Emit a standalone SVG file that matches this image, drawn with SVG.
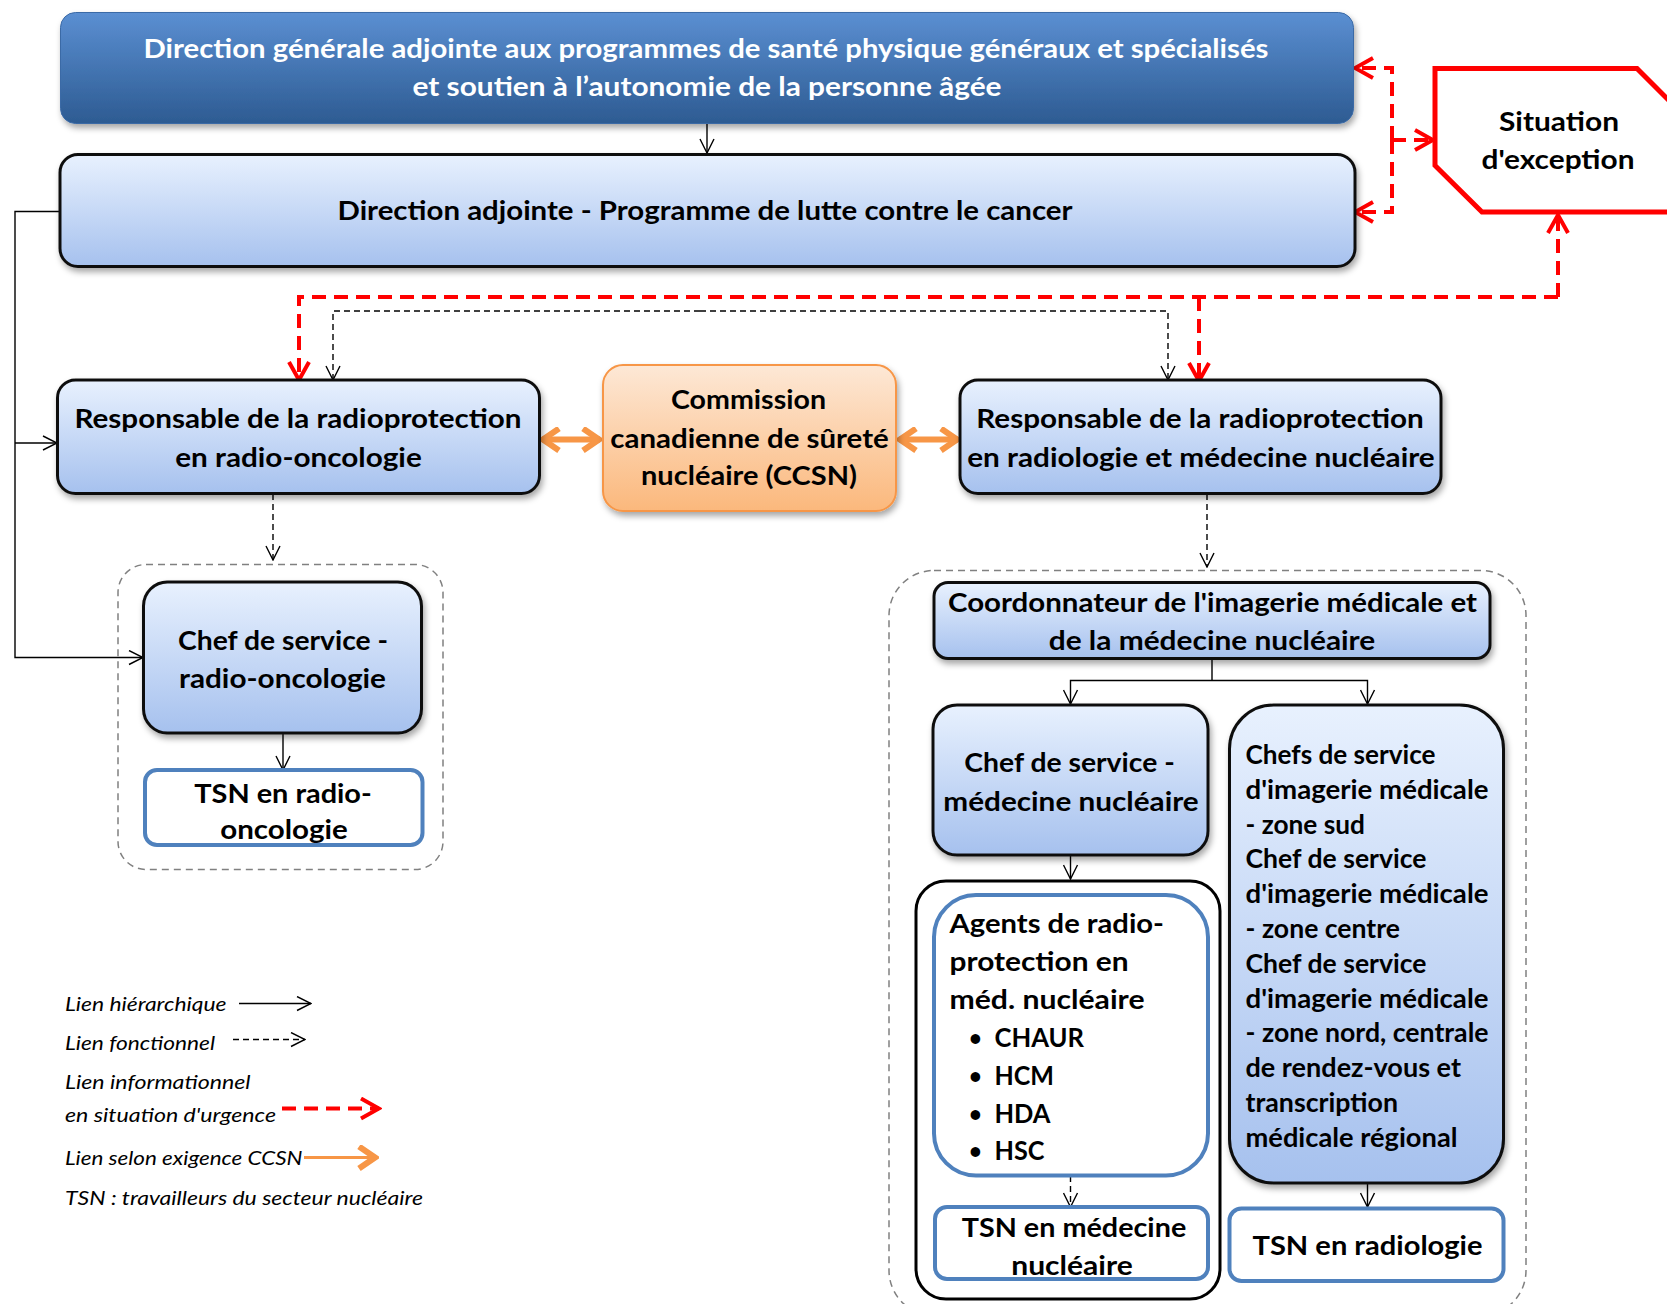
<svg xmlns="http://www.w3.org/2000/svg" width="1667" height="1304" viewBox="0 0 1667 1304">
<defs>
<style>
.t{font-family:Lato,"Open Sans","Liberation Sans",sans-serif;font-weight:700;font-size:27px;fill:#000}
.c{text-anchor:middle}
.tw{fill:#fff;font-size:26px}
.bul{font-size:22px}
.leg{font-family:Lato,"Open Sans","Liberation Sans",sans-serif;font-style:italic;font-size:20px;fill:#000}
.bx{stroke:#111;stroke-width:3}
.blu{fill:#fff;stroke:#4f81bd;stroke-width:4}
.h{stroke:#000;stroke-width:1.4;fill:none}
.f{stroke:#000;stroke-width:1.4;fill:none;stroke-dasharray:6 4}
.r{stroke:#ff0000;stroke-width:4;fill:none;stroke-dasharray:14 8}
.o{stroke:#f79646;stroke-width:6;fill:none}
.grp{fill:none;stroke:#808080;stroke-width:1.5;stroke-dasharray:7 5}
</style>
<linearGradient id="gDark" x1="0" y1="0" x2="0" y2="1">
<stop offset="0" stop-color="#5b8fd2"/><stop offset="1" stop-color="#2d5b92"/>
</linearGradient>
<linearGradient id="gLight" x1="0" y1="0" x2="0" y2="1">
<stop offset="0" stop-color="#e8f1fe"/><stop offset="1" stop-color="#a6c1ee"/>
</linearGradient>
<linearGradient id="gOr" x1="0" y1="0" x2="0" y2="1">
<stop offset="0" stop-color="#fde8d6"/><stop offset="1" stop-color="#fbb87c"/>
</linearGradient>
<filter id="sh" x="-10%" y="-10%" width="125%" height="135%">
<feDropShadow dx="2" dy="4" stdDeviation="3" flood-color="#000" flood-opacity="0.35"/>
</filter>
<marker id="aH" viewBox="0 0 16 16" refX="15" refY="8" markerWidth="16" markerHeight="16" markerUnits="userSpaceOnUse" orient="auto">
<path d="M1,1 L15,8 L1,15" fill="none" stroke="#000" stroke-width="1.4"/>
</marker>
<marker id="aR" viewBox="0 0 24 24" refX="21" refY="12" markerWidth="24" markerHeight="24" markerUnits="userSpaceOnUse" orient="auto">
<path d="M3,2 L21,12 L3,22" fill="none" stroke="#ff0000" stroke-width="4"/>
</marker>
<marker id="aO" viewBox="0 0 24 26" refX="21" refY="13" markerWidth="24" markerHeight="26" markerUnits="userSpaceOnUse" orient="auto-start-reverse">
<path d="M4,2 L20,13 L4,24" fill="none" stroke="#f79646" stroke-width="6"/>
</marker>
</defs>

<rect width="1667" height="1304" fill="#fff"/>

<!-- group containers -->
<g id="container-left"><rect class="grp" x="118" y="564.5" width="325" height="305" rx="28"/></g>
<g id="container-right"><rect class="grp" x="889" y="570.5" width="637" height="745" rx="45"/></g>

<!-- connectors -->
<g id="connectors">
<path class="h" d="M707,124 V153" marker-end="url(#aH)"/>
<path class="h" d="M60,211.5 H15 V657.5 H143" marker-end="url(#aH)"/>
<path class="h" d="M15,443 H57" marker-end="url(#aH)"/>
<path class="h" d="M283,733 V770" marker-end="url(#aH)"/>
<path class="h" d="M1212,659 V680.5"/>
<path class="h" d="M1212,680.5 H1070.5 V704" marker-end="url(#aH)"/>
<path class="h" d="M1212,680.5 H1367.5 V704" marker-end="url(#aH)"/>
<path class="h" d="M1070.5,855 V879" marker-end="url(#aH)"/>
<path class="h" d="M1367.5,1183 V1207" marker-end="url(#aH)"/>

<path class="f" d="M700,311 H333 V380" marker-end="url(#aH)"/>
<path class="f" d="M700,311 H1168 V380" marker-end="url(#aH)"/>
<path class="f" d="M273,494 V560" marker-end="url(#aH)"/>
<path class="f" d="M1207,494 V567" marker-end="url(#aH)"/>
<path class="f" d="M1070.5,1176 V1207" marker-end="url(#aH)"/>

<path class="r" d="M1392,140 V68 H1355" marker-end="url(#aR)"/>
<path class="r" d="M1392,140 V212 H1355" marker-end="url(#aR)"/>
<path class="r" d="M1392,140 H1433" marker-end="url(#aR)"/>
<path class="r" d="M1558,297 V215" marker-end="url(#aR)"/>
<path class="r" d="M1558,297 H299 V380" marker-end="url(#aR)"/>
<path class="r" d="M1199,297 V381" marker-end="url(#aR)"/>

<path class="o" d="M542,439.5 H600" marker-start="url(#aO)" marker-end="url(#aO)"/>
<path class="o" d="M899,439.5 H958" marker-start="url(#aO)" marker-end="url(#aO)"/>
</g>

<!-- nodes -->
<g id="n-dga">
<rect x="60.5" y="12.5" width="1293" height="111" rx="15" fill="url(#gDark)" stroke="#3b6aa6" stroke-width="1" filter="url(#sh)"/>
<text class="t tw c" x="706" y="58" textLength="1125" lengthAdjust="spacingAndGlyphs">Direction générale adjointe aux programmes de santé physique généraux et spécialisés</text>
<text class="t tw c" x="707" y="96" textLength="589" lengthAdjust="spacingAndGlyphs">et soutien à l’autonomie de la personne âgée</text>
</g>

<g id="n-da">
<rect class="bx" x="60" y="154.5" width="1295" height="112" rx="18" fill="url(#gLight)" filter="url(#sh)"/>
<text class="t c" x="705" y="220" textLength="735" lengthAdjust="spacingAndGlyphs">Direction adjointe - Programme de lutte contre le cancer</text>
</g>

<g id="n-situation">
<polygon points="1435,68.5 1637,68.5 1681,112.5 1681,212 1482,212 1435,165.5" fill="#fff" stroke="#ff0000" stroke-width="5"/>
<text class="t c" x="1559" y="131" textLength="120" lengthAdjust="spacingAndGlyphs">Situation</text>
<text class="t c" x="1558" y="169" textLength="153" lengthAdjust="spacingAndGlyphs">d'exception</text>
</g>

<g id="n-resp-ro">
<rect class="bx" x="57.5" y="380" width="482" height="113.5" rx="18" fill="url(#gLight)" filter="url(#sh)"/>
<text class="t c" x="298" y="428" textLength="447" lengthAdjust="spacingAndGlyphs">Responsable de la radioprotection</text>
<text class="t c" x="298.5" y="466.5" textLength="246.5" lengthAdjust="spacingAndGlyphs">en radio-oncologie</text>
</g>

<g id="n-ccsn">
<rect x="603" y="365" width="293" height="146" rx="20" fill="url(#gOr)" stroke="#f79646" stroke-width="2" filter="url(#sh)"/>
<text class="t c" x="748.5" y="409" textLength="155" lengthAdjust="spacingAndGlyphs">Commission</text>
<text class="t c" x="749.5" y="447.5" textLength="278.5" lengthAdjust="spacingAndGlyphs">canadienne de sûreté</text>
<text class="t c" x="749" y="485" textLength="216" lengthAdjust="spacingAndGlyphs">nucléaire (CCSN)</text>
</g>

<g id="n-resp-rmn">
<rect class="bx" x="960" y="380" width="481" height="113.5" rx="18" fill="url(#gLight)" filter="url(#sh)"/>
<text class="t c" x="1200" y="428" textLength="447.5" lengthAdjust="spacingAndGlyphs">Responsable de la radioprotection</text>
<text class="t c" x="1201" y="466.5" textLength="467.5" lengthAdjust="spacingAndGlyphs">en radiologie et médecine nucléaire</text>
</g>

<g id="n-chef-ro">
<rect class="bx" x="143.5" y="582" width="278" height="151" rx="24" fill="url(#gLight)" filter="url(#sh)"/>
<text class="t c" x="283" y="650" textLength="210" lengthAdjust="spacingAndGlyphs">Chef de service -</text>
<text class="t c" x="282.5" y="688" textLength="207" lengthAdjust="spacingAndGlyphs">radio-oncologie</text>
</g>

<g id="n-tsn-ro">
<rect class="blu" x="145" y="770" width="277.5" height="75" rx="12"/>
<text class="t c" x="283" y="803" textLength="177.5" lengthAdjust="spacingAndGlyphs">TSN en radio-</text>
<text class="t c" x="284" y="839" textLength="127.5" lengthAdjust="spacingAndGlyphs">oncologie</text>
</g>

<g id="n-coord">
<rect class="bx" x="934" y="582.5" width="556" height="76" rx="14" fill="url(#gLight)" filter="url(#sh)"/>
<text class="t c" x="1212.5" y="611.5" textLength="529" lengthAdjust="spacingAndGlyphs">Coordonnateur de l'imagerie médicale et</text>
<text class="t c" x="1212" y="650" textLength="326.5" lengthAdjust="spacingAndGlyphs">de la médecine nucléaire</text>
</g>

<g id="n-chef-mn">
<rect class="bx" x="933" y="705" width="275" height="150" rx="24" fill="url(#gLight)" filter="url(#sh)"/>
<text class="t c" x="1069.5" y="772" textLength="210.5" lengthAdjust="spacingAndGlyphs">Chef de service -</text>
<text class="t c" x="1071" y="810.5" textLength="255.5" lengthAdjust="spacingAndGlyphs">médecine nucléaire</text>
</g>

<g id="n-mn-frame">
<rect x="916" y="881" width="304" height="418" rx="30" fill="none" stroke="#000" stroke-width="3"/>
</g>

<g id="n-agents">
<rect class="blu" x="934" y="895" width="274" height="280.5" rx="42"/>
<text class="t" x="949.5" y="933" textLength="214.5" lengthAdjust="spacingAndGlyphs">Agents de radio-</text>
<text class="t" x="949.5" y="971" textLength="179" lengthAdjust="spacingAndGlyphs">protection en</text>
<text class="t" x="949.5" y="1009" textLength="195" lengthAdjust="spacingAndGlyphs">méd. nucléaire</text>
<text class="t bul" x="969" y="1046">•</text><text class="t" x="994.5" y="1047" textLength="89.5" lengthAdjust="spacingAndGlyphs">CHAUR</text>
<text class="t bul" x="969" y="1084">•</text><text class="t" x="994.5" y="1085" textLength="59.5" lengthAdjust="spacingAndGlyphs">HCM</text>
<text class="t bul" x="969" y="1122">•</text><text class="t" x="994.5" y="1123" textLength="56" lengthAdjust="spacingAndGlyphs">HDA</text>
<text class="t bul" x="969" y="1159">•</text><text class="t" x="994.5" y="1160" textLength="50" lengthAdjust="spacingAndGlyphs">HSC</text>
</g>

<g id="n-tsn-mn">
<rect class="blu" x="935" y="1207" width="273" height="72" rx="12"/>
<text class="t c" x="1074" y="1237" textLength="224.5" lengthAdjust="spacingAndGlyphs">TSN en médecine</text>
<text class="t c" x="1072" y="1275" textLength="121.5" lengthAdjust="spacingAndGlyphs">nucléaire</text>
</g>

<g id="n-chefs-im">
<rect class="bx" x="1229.5" y="705" width="274" height="478" rx="44" fill="url(#gLight)" filter="url(#sh)"/>
<text class="t" x="1245.5" y="764" textLength="190" lengthAdjust="spacingAndGlyphs">Chefs de service</text>
<text class="t" x="1245.5" y="798.8" textLength="243" lengthAdjust="spacingAndGlyphs">d'imagerie médicale</text>
<text class="t" x="1245.5" y="833.6" textLength="119.5" lengthAdjust="spacingAndGlyphs">- zone sud</text>
<text class="t" x="1245.5" y="868.4" textLength="181" lengthAdjust="spacingAndGlyphs">Chef de service</text>
<text class="t" x="1245.5" y="903.2" textLength="243" lengthAdjust="spacingAndGlyphs">d'imagerie médicale</text>
<text class="t" x="1245.5" y="938" textLength="154.5" lengthAdjust="spacingAndGlyphs">- zone centre</text>
<text class="t" x="1245.5" y="972.8" textLength="181" lengthAdjust="spacingAndGlyphs">Chef de service</text>
<text class="t" x="1245.5" y="1007.6" textLength="243" lengthAdjust="spacingAndGlyphs">d'imagerie médicale</text>
<text class="t" x="1245.5" y="1042.4" textLength="243" lengthAdjust="spacingAndGlyphs">- zone nord, centrale</text>
<text class="t" x="1245.5" y="1077.2" textLength="215.5" lengthAdjust="spacingAndGlyphs">de rendez-vous et</text>
<text class="t" x="1245.5" y="1112" textLength="152.5" lengthAdjust="spacingAndGlyphs">transcription</text>
<text class="t" x="1245.5" y="1146.8" textLength="212" lengthAdjust="spacingAndGlyphs">médicale régional</text>
</g>

<g id="n-tsn-rad">
<rect class="blu" x="1229.5" y="1208.5" width="274" height="72.5" rx="12"/>
<text class="t c" x="1367.5" y="1255" textLength="230" lengthAdjust="spacingAndGlyphs">TSN en radiologie</text>
</g>

<!-- legend -->
<g id="legend">
<text class="leg" x="65" y="1010.5" textLength="161.5" lengthAdjust="spacingAndGlyphs">Lien hiérarchique</text>
<path class="h" d="M239,1003.5 H311" marker-end="url(#aH)"/>
<text class="leg" x="65" y="1049.5" textLength="150" lengthAdjust="spacingAndGlyphs">Lien fonctionnel</text>
<path class="f" d="M233,1039.5 H305" marker-end="url(#aH)"/>
<text class="leg" x="65" y="1088.5" textLength="185.5" lengthAdjust="spacingAndGlyphs">Lien informationnel</text>
<text class="leg" x="65" y="1121.5" textLength="211" lengthAdjust="spacingAndGlyphs">en situation d'urgence</text>
<path class="r" d="M282,1108.5 H379" stroke-dasharray="15 11" marker-end="url(#aR)"/>
<text class="leg" x="65" y="1165" textLength="237.5" lengthAdjust="spacingAndGlyphs">Lien selon exigence CCSN</text>
<path d="M304,1157.5 H376" stroke="#f79646" stroke-width="3" fill="none" marker-end="url(#aO)"/>
<text class="leg" x="65" y="1205" textLength="358" lengthAdjust="spacingAndGlyphs">TSN : travailleurs du secteur nucléaire</text>
</g>
</svg>
